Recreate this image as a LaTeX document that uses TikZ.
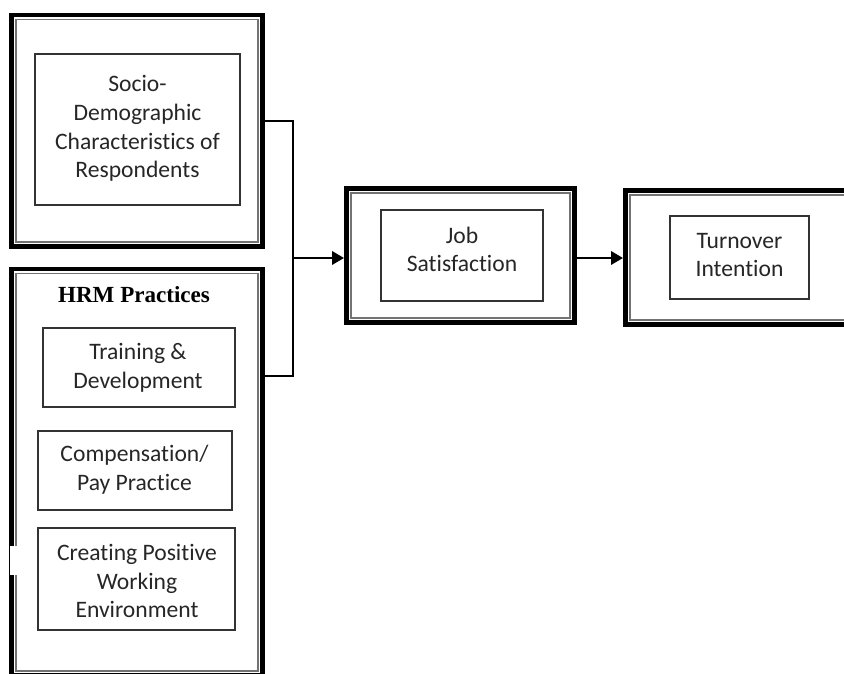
\documentclass[tikz,border=0pt]{standalone}
\usepackage{fontspec}
\setmainfont{Carlito}[Ligatures=NoCommon]
\newfontfamily\hrmfont{Liberation Serif}
\usetikzlibrary{fit,arrows.meta}
\tikzset{
    outerbox/.style={draw=black, line width=3.5pt, inner sep=0pt},
    innerbox/.style={draw=black!80, line width=0.9pt, inner sep=0pt},
    boxtext/.style={align=center, inner sep=0pt, text=black!85, font=\fontsize{17.7}{21.5}\selectfont},
    frameline/.style={draw=black!55, line width=1.2pt},
    link/.style={line width=1.9pt},
}
\begin{document}
\begin{tikzpicture}[x=0.75pt,y=-0.75pt]
            \useasboundingbox (0,0) rectangle (844,674);
            \node[outerbox, fit={(11.35,14.85) (262.65,246.65)}] (demo) {};
            \node[outerbox, fit={(11.35,269) (262.65,675.4)}] (hrm) {};
            \node[outerbox, fit={(346.35,188.35) (574.65,322.65)}] (job) {};
            \node[outerbox, fit={(625.35,190.35) (860,324.65)}] (turn) {};
            \foreach \b in {demo,hrm,job,turn}
                \draw[frameline] ([shift={(7,7)}]\b.north west) rectangle ([shift={(-7,-7)}]\b.south east);
            \node[innerbox, fit={(35,54) (240,205)}] (demoin) {};
            \node[innerbox, fit={(43,328) (235,407)}] (train) {};
            \node[innerbox, fit={(38,431) (232,510)}] (comp) {};
            \node[innerbox, fit={(38,528) (235,630)}] (env) {};
            \node[innerbox, fit={(381,210) (543,301)}] (jobin) {};
            \node[innerbox, fit={(670,216) (809,299)}] (turnin) {};
            \node[boxtext] (demotxt) at (137.5,128.5) {Socio-\\Demographic\\Characteristics of\\Respondents};
            \node[boxtext, text=black, font=\hrmfont\bfseries\fontsize{17.3}{21.5}\selectfont] (hrmtxt) at (134,295) {HRM Practices};
            \node[boxtext] (traintxt) at (138,367.5) {Training \&\\Development};
            \node[boxtext] (comptxt) at (134.5,470) {Compensation/\\Pay Practice};
            \node[boxtext] (envtxt) at (137,581) {Creating Positive\\Working\\Environment};
            \node[boxtext] (jobtxt) at (462,249.5) {Job\\Satisfaction};
            \node[boxtext] (turntxt) at (739.5,255) {Turnover\\Intention};
            \fill[white] (10,546) rectangle (33,575);
            \coordinate (split) at (293,121);
            \coordinate (merge) at (293,376);
            \coordinate (feed) at (293,258);
            \draw[link] (demo.east |- split) -- (split) -- (merge) -- (hrm.east |- merge);
            \draw[link, -{Triangle[length=9pt,width=10pt]}] (feed) -- (job.west |- feed);
            \draw[link, -{Triangle[length=9pt,width=10pt]}] (job.east |- feed) -- (turn.west |- feed);
\end{tikzpicture}
\end{document}
